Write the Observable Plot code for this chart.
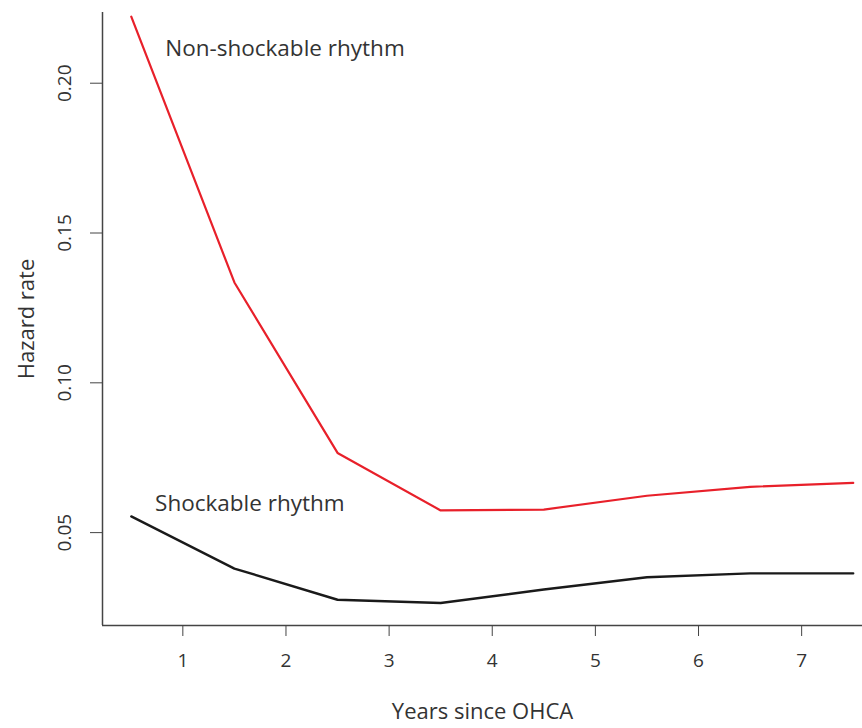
<!DOCTYPE html>
<html>
<head>
<meta charset="utf-8">
<script src="https://cdn.jsdelivr.net/npm/d3@7"></script>
<script src="https://cdn.jsdelivr.net/npm/@observablehq/plot@0.6"></script>
<style>
  html, body { margin: 0; padding: 0; background: #fff; }
</style>
</head>
<body>
<div id="chart"></div>
<script>
const years = [0.5, 1.5, 2.5, 3.5, 4.5, 5.5, 6.5, 7.5];
const nonShockable = [0.2222, 0.1335, 0.0766, 0.0574, 0.0577, 0.0623, 0.0653, 0.0666];
const shockable = [0.0554, 0.038, 0.0276, 0.0265, 0.031, 0.0351, 0.0364, 0.0364];
const xTicks = [1, 2, 3, 4, 5, 6, 7];
const yTicks = [0.05, 0.10, 0.15, 0.20];
const seriesLabels = ["Non-shockable rhythm", "Shockable rhythm"];
const labelX = [1.99, 1.65];
const labelY = [0.2115, 0.0595];

const xDomain = [0.221, 7.59];
const yDomain = [0.019, 0.2236];

const red = years.map((x, i) => ({x, y: nonShockable[i]}));
const black = years.map((x, i) => ({x, y: shockable[i]}));
const labels = seriesLabels.map((t, i) => ({t, x: labelX[i], y: labelY[i]}));

const axisColor = "#444";
const textColor = "#333";

const chart = Plot.plot({
  width: 862,
  height: 728,
  marginLeft: 102,
  marginRight: 0,
  marginTop: 12,
  marginBottom: 103,
  style: {fontFamily: "'Open Sans', sans-serif", background: "#fff", color: textColor},
  x: {domain: xDomain},
  y: {domain: yDomain},
  marks: [
    Plot.ruleX([xDomain[0]], {stroke: axisColor, strokeWidth: 1.5}),
    Plot.ruleY([yDomain[0]], {stroke: axisColor, strokeWidth: 1.5}),
    Plot.axisX({
      ticks: xTicks, tickSize: 11, tickPadding: 17, fontSize: 19,
      stroke: axisColor, fill: textColor, label: null
    }),
    Plot.axisX({
      ticks: [], tickSize: 0, fontSize: 22, fill: textColor,
      label: "Years since OHCA", labelAnchor: "center", labelOffset: 93, labelArrow: "none"
    }),
    Plot.axisY({
      ticks: yTicks, tickSize: 12, tickPadding: 20, fontSize: 19, tickRotate: -90,
      tickFormat: d3.format(".2f"),
      stroke: axisColor, fill: textColor, label: null
    }),
    Plot.axisY({
      ticks: [], tickSize: 0, fontSize: 22, fill: textColor,
      label: "Hazard rate", labelAnchor: "center", labelOffset: 84, labelArrow: "none"
    }),
    Plot.line(red, {x: "x", y: "y", stroke: "#e8202a", strokeWidth: 2.2}),
    Plot.line(black, {x: "x", y: "y", stroke: "#1a1a1a", strokeWidth: 2.4}),
    Plot.text(labels, {x: "x", y: "y", text: "t", fontSize: 22.5, fill: textColor})
  ]
});
document.getElementById("chart").appendChild(chart);
</script>
</body>
</html>
